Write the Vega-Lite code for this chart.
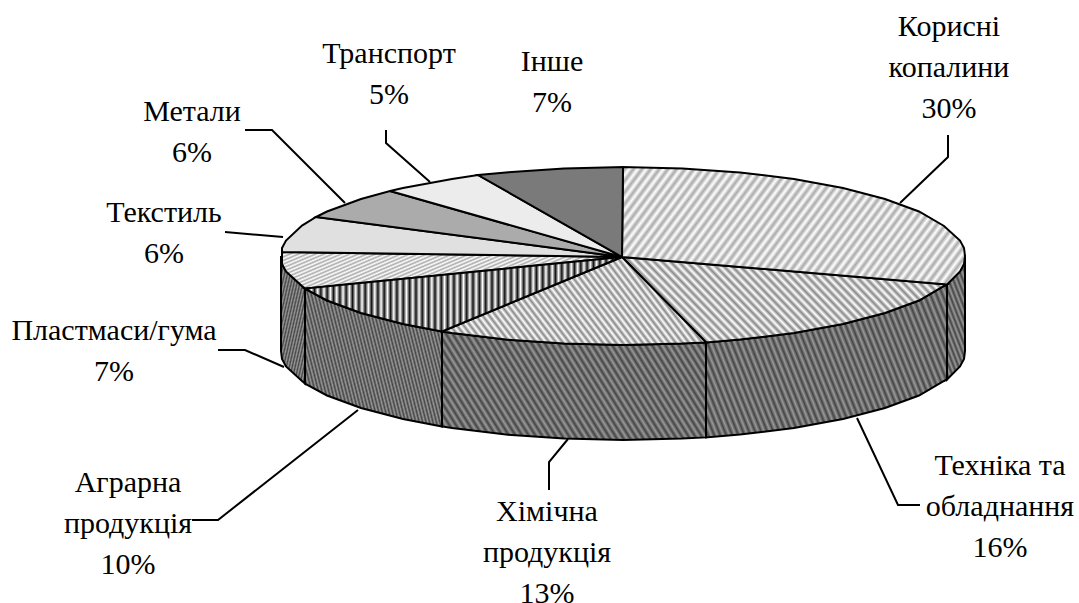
{"$schema":"https://vega.github.io/schema/vega-lite/v6.json","width":1079,"height":603,"padding":0,"autosize":"none","background":"white","view":{"stroke":null},
"projection":{"type":"identity","scale":1,"translate":[0,0]},
"config":{"view":{"stroke":null}},
"datasets":{
"shapes":[
{"type":"Feature","properties":{"name":"Корисні копалини","part":"wall","look":"dark"},"geometry":{"type":"Polygon","coordinates":[[[965,256],[964,264],[960,271.5],[947,284.5],[947,379.5],[960,366.5],[964,359],[965,351],[965,256]]]}},
{"type":"Feature","properties":{"name":"Техніка та обладнання","part":"wall","look":"dark"},"geometry":{"type":"Polygon","coordinates":[[[947,284.5],[944,286],[919,300.5],[885,313],[843,324],[794,333],[740,339.6],[706,342.4],[706,437.4],[740,434.6],[794,428],[843,419],[885,408],[919,395.5],[944,381],[947,379.5],[947,284.5]]]}},
{"type":"Feature","properties":{"name":"Хімічна продукція","part":"wall","look":"dark"},"geometry":{"type":"Polygon","coordinates":[[[706,342.4],[682,343.6],[623,345],[564,343.6],[506,339.6],[452,333],[442,331.5],[442,426.5],[452,428],[506,434.6],[564,438.6],[623,440],[682,438.6],[706,437.4],[706,342.4]]]}},
{"type":"Feature","properties":{"name":"Аграрна продукція","part":"wall","look":"dark"},"geometry":{"type":"Polygon","coordinates":[[[442,331.5],[403,324],[361,313],[327,300.5],[305,288.6],[305,383.6],[327,395.5],[361,408],[403,419],[442,426.5],[442,331.5]]]}},
{"type":"Feature","properties":{"name":"Пластмаси/гума","part":"wall","look":"dark"},"geometry":{"type":"Polygon","coordinates":[[[305,288.6],[302,286],[286,271.5],[282,264],[281,256],[281,351],[282,359],[286,366.5],[302,381],[305,383.6],[305,288.6]]]}},
{"type":"Feature","properties":{"name":"Корисні копалини","part":"top","look":"lightF"},"geometry":{"type":"Polygon","coordinates":[[[622,257],[623,167],[682.4,168.4],[740,172.4],[794,179],[843,188],[885,199],[919,211.5],[944,226],[960,240.5],[964,248],[965,256],[964,264],[960,271.5],[947,284.5],[622,257]]]}},
{"type":"Feature","properties":{"name":"Техніка та обладнання","part":"top","look":"lightB"},"geometry":{"type":"Polygon","coordinates":[[[622,257],[947,284.5],[944,286],[919,300.5],[885,313],[843,324],[794,333],[740,339.6],[706,342.4],[622,257]]]}},
{"type":"Feature","properties":{"name":"Хімічна продукція","part":"top","look":"lightB"},"geometry":{"type":"Polygon","coordinates":[[[622,257],[706,342.4],[682,343.6],[623,345],[564,343.6],[506,339.6],[452,333],[442,331.5],[622,257]]]}},
{"type":"Feature","properties":{"name":"Аграрна продукція","part":"top","look":"contrast"},"geometry":{"type":"Polygon","coordinates":[[[622,257],[442,331.5],[403,324],[361,313],[327,300.5],[305,288.6],[622,257]]]}},
{"type":"Feature","properties":{"name":"Пластмаси/гума","part":"top","look":"lightF"},"geometry":{"type":"Polygon","coordinates":[[[622,257],[305,288.6],[302,286],[286,271.5],[282,264],[282,252],[622,257]]]}},
{"type":"Feature","properties":{"name":"Текстиль","part":"top","look":"#e0e0e0"},"geometry":{"type":"Polygon","coordinates":[[[622,257],[282,252],[282,248],[286,240.5],[302,225.6],[316,217],[622,257]]]}},
{"type":"Feature","properties":{"name":"Метали","part":"top","look":"#ababab"},"geometry":{"type":"Polygon","coordinates":[[[622,257],[316,217],[327,211.5],[361,199],[390,191],[622,257]]]}},
{"type":"Feature","properties":{"name":"Транспорт","part":"top","look":"#ececec"},"geometry":{"type":"Polygon","coordinates":[[[622,257],[390,191],[403,188],[452,179],[478,175],[622,257]]]}},
{"type":"Feature","properties":{"name":"Інше","part":"top","look":"#7a7a7a"},"geometry":{"type":"Polygon","coordinates":[[[622,257],[478,175],[506,172.4],[564,168.4],[623,167],[622,257]]]}}
],
"leaders":[
{"type":"Feature","properties":{"name":"Корисні копалини"},"geometry":{"type":"LineString","coordinates":[[948,135],[948,157],[900,203]]}},
{"type":"Feature","properties":{"name":"Техніка та обладнання"},"geometry":{"type":"LineString","coordinates":[[857,418],[898,505],[920,505]]}},
{"type":"Feature","properties":{"name":"Хімічна продукція"},"geometry":{"type":"LineString","coordinates":[[549,490],[549,462],[568,439]]}},
{"type":"Feature","properties":{"name":"Аграрна продукція"},"geometry":{"type":"LineString","coordinates":[[192,520],[218,520],[358,410]]}},
{"type":"Feature","properties":{"name":"Пластмаси/гума"},"geometry":{"type":"LineString","coordinates":[[218,350],[245,350],[284,367]]}},
{"type":"Feature","properties":{"name":"Текстиль"},"geometry":{"type":"LineString","coordinates":[[225,232],[283,237]]}},
{"type":"Feature","properties":{"name":"Метали"},"geometry":{"type":"LineString","coordinates":[[245,130],[272,130],[345,203]]}},
{"type":"Feature","properties":{"name":"Транспорт"},"geometry":{"type":"LineString","coordinates":[[386,130],[386,143],[430,182]]}}
],
"labels":[
{"name":"Корисні копалини","share":30,"text":"Корисні\nкопалини\n30%","lon":949,"lat":12},
{"name":"Техніка та обладнання","share":16,"text":"Техніка та\nобладнання\n16%","lon":1000,"lat":451},
{"name":"Хімічна продукція","share":13,"text":"Хімічна\nпродукція\n13%","lon":547,"lat":497},
{"name":"Аграрна продукція","share":10,"text":"Аграрна\nпродукція\n10%","lon":128,"lat":468},
{"name":"Пластмаси/гума","share":7,"text":"Пластмаси/гума\n7%","lon":114,"lat":316},
{"name":"Текстиль","share":6,"text":"Текстиль\n6%","lon":164,"lat":198},
{"name":"Метали","share":6,"text":"Метали\n6%","lon":192,"lat":97},
{"name":"Транспорт","share":5,"text":"Транспорт\n5%","lon":389,"lat":39},
{"name":"Інше","share":7,"text":"Інше\n7%","lon":552,"lat":47}
]},
"layer":[
{"data":{"name":"shapes"},"transform":[{"filter":"datum.properties.look=='dark'"}],
"mark":{"type":"geoshape","stroke":"black","strokeWidth":2,"fill":{"gradient":"linear","x1":0,"y1":1,"x2":1.18,"y2":0.7,"stops":[{"offset":0,"color":"#999"},{"offset":0.01,"color":"#444"},{"offset":0.02,"color":"#999"},{"offset":0.03,"color":"#444"},{"offset":0.04,"color":"#999"},{"offset":0.05,"color":"#444"},{"offset":0.06,"color":"#999"},{"offset":0.07,"color":"#444"},{"offset":0.08,"color":"#999"},{"offset":0.09,"color":"#444"},{"offset":0.1,"color":"#999"},{"offset":0.11,"color":"#444"},{"offset":0.12,"color":"#999"},{"offset":0.13,"color":"#444"},{"offset":0.14,"color":"#999"},{"offset":0.15,"color":"#444"},{"offset":0.16,"color":"#999"},{"offset":0.17,"color":"#444"},{"offset":0.18,"color":"#999"},{"offset":0.19,"color":"#444"},{"offset":0.2,"color":"#999"},{"offset":0.21,"color":"#444"},{"offset":0.22,"color":"#999"},{"offset":0.23,"color":"#444"},{"offset":0.24,"color":"#999"},{"offset":0.25,"color":"#444"},{"offset":0.26,"color":"#999"},{"offset":0.27,"color":"#444"},{"offset":0.28,"color":"#999"},{"offset":0.29,"color":"#444"},{"offset":0.3,"color":"#999"},{"offset":0.31,"color":"#444"},{"offset":0.32,"color":"#999"},{"offset":0.33,"color":"#444"},{"offset":0.34,"color":"#999"},{"offset":0.35,"color":"#444"},{"offset":0.36,"color":"#999"},{"offset":0.37,"color":"#444"},{"offset":0.38,"color":"#999"},{"offset":0.39,"color":"#444"},{"offset":0.4,"color":"#999"},{"offset":0.41,"color":"#444"},{"offset":0.42,"color":"#999"},{"offset":0.43,"color":"#444"},{"offset":0.44,"color":"#999"},{"offset":0.45,"color":"#444"},{"offset":0.46,"color":"#999"},{"offset":0.47,"color":"#444"},{"offset":0.48,"color":"#999"},{"offset":0.49,"color":"#444"},{"offset":0.5,"color":"#999"},{"offset":0.51,"color":"#444"},{"offset":0.52,"color":"#999"},{"offset":0.53,"color":"#444"},{"offset":0.54,"color":"#999"},{"offset":0.55,"color":"#444"},{"offset":0.56,"color":"#999"},{"offset":0.57,"color":"#444"},{"offset":0.58,"color":"#999"},{"offset":0.59,"color":"#444"},{"offset":0.6,"color":"#999"},{"offset":0.61,"color":"#444"},{"offset":0.62,"color":"#999"},{"offset":0.63,"color":"#444"},{"offset":0.64,"color":"#999"},{"offset":0.65,"color":"#444"},{"offset":0.66,"color":"#999"},{"offset":0.67,"color":"#444"},{"offset":0.68,"color":"#999"},{"offset":0.69,"color":"#444"},{"offset":0.7,"color":"#999"},{"offset":0.71,"color":"#444"},{"offset":0.72,"color":"#999"},{"offset":0.73,"color":"#444"},{"offset":0.74,"color":"#999"},{"offset":0.75,"color":"#444"},{"offset":0.76,"color":"#999"},{"offset":0.77,"color":"#444"},{"offset":0.78,"color":"#999"},{"offset":0.79,"color":"#444"},{"offset":0.8,"color":"#999"},{"offset":0.81,"color":"#444"},{"offset":0.82,"color":"#999"},{"offset":0.83,"color":"#444"},{"offset":0.84,"color":"#999"},{"offset":0.85,"color":"#444"},{"offset":0.86,"color":"#999"},{"offset":0.87,"color":"#444"},{"offset":0.88,"color":"#999"},{"offset":0.89,"color":"#444"},{"offset":0.9,"color":"#999"},{"offset":0.91,"color":"#444"},{"offset":0.92,"color":"#999"},{"offset":0.93,"color":"#444"},{"offset":0.94,"color":"#999"},{"offset":0.95,"color":"#444"},{"offset":0.96,"color":"#999"},{"offset":0.97,"color":"#444"},{"offset":0.98,"color":"#999"},{"offset":0.99,"color":"#444"},{"offset":1,"color":"#999"}]}},"encoding":{}},
{"data":{"name":"shapes"},"transform":[{"filter":"datum.properties.look=='lightB'"}],
"mark":{"type":"geoshape","stroke":"black","strokeWidth":2,"fill":{"gradient":"linear","x1":0,"y1":1,"x2":1.18,"y2":0.7,"stops":[{"offset":0,"color":"#fff"},{"offset":0.01,"color":"#888"},{"offset":0.02,"color":"#fff"},{"offset":0.03,"color":"#888"},{"offset":0.04,"color":"#fff"},{"offset":0.05,"color":"#888"},{"offset":0.06,"color":"#fff"},{"offset":0.07,"color":"#888"},{"offset":0.08,"color":"#fff"},{"offset":0.09,"color":"#888"},{"offset":0.1,"color":"#fff"},{"offset":0.11,"color":"#888"},{"offset":0.12,"color":"#fff"},{"offset":0.13,"color":"#888"},{"offset":0.14,"color":"#fff"},{"offset":0.15,"color":"#888"},{"offset":0.16,"color":"#fff"},{"offset":0.17,"color":"#888"},{"offset":0.18,"color":"#fff"},{"offset":0.19,"color":"#888"},{"offset":0.2,"color":"#fff"},{"offset":0.21,"color":"#888"},{"offset":0.22,"color":"#fff"},{"offset":0.23,"color":"#888"},{"offset":0.24,"color":"#fff"},{"offset":0.25,"color":"#888"},{"offset":0.26,"color":"#fff"},{"offset":0.27,"color":"#888"},{"offset":0.28,"color":"#fff"},{"offset":0.29,"color":"#888"},{"offset":0.3,"color":"#fff"},{"offset":0.31,"color":"#888"},{"offset":0.32,"color":"#fff"},{"offset":0.33,"color":"#888"},{"offset":0.34,"color":"#fff"},{"offset":0.35,"color":"#888"},{"offset":0.36,"color":"#fff"},{"offset":0.37,"color":"#888"},{"offset":0.38,"color":"#fff"},{"offset":0.39,"color":"#888"},{"offset":0.4,"color":"#fff"},{"offset":0.41,"color":"#888"},{"offset":0.42,"color":"#fff"},{"offset":0.43,"color":"#888"},{"offset":0.44,"color":"#fff"},{"offset":0.45,"color":"#888"},{"offset":0.46,"color":"#fff"},{"offset":0.47,"color":"#888"},{"offset":0.48,"color":"#fff"},{"offset":0.49,"color":"#888"},{"offset":0.5,"color":"#fff"},{"offset":0.51,"color":"#888"},{"offset":0.52,"color":"#fff"},{"offset":0.53,"color":"#888"},{"offset":0.54,"color":"#fff"},{"offset":0.55,"color":"#888"},{"offset":0.56,"color":"#fff"},{"offset":0.57,"color":"#888"},{"offset":0.58,"color":"#fff"},{"offset":0.59,"color":"#888"},{"offset":0.6,"color":"#fff"},{"offset":0.61,"color":"#888"},{"offset":0.62,"color":"#fff"},{"offset":0.63,"color":"#888"},{"offset":0.64,"color":"#fff"},{"offset":0.65,"color":"#888"},{"offset":0.66,"color":"#fff"},{"offset":0.67,"color":"#888"},{"offset":0.68,"color":"#fff"},{"offset":0.69,"color":"#888"},{"offset":0.7,"color":"#fff"},{"offset":0.71,"color":"#888"},{"offset":0.72,"color":"#fff"},{"offset":0.73,"color":"#888"},{"offset":0.74,"color":"#fff"},{"offset":0.75,"color":"#888"},{"offset":0.76,"color":"#fff"},{"offset":0.77,"color":"#888"},{"offset":0.78,"color":"#fff"},{"offset":0.79,"color":"#888"},{"offset":0.8,"color":"#fff"},{"offset":0.81,"color":"#888"},{"offset":0.82,"color":"#fff"},{"offset":0.83,"color":"#888"},{"offset":0.84,"color":"#fff"},{"offset":0.85,"color":"#888"},{"offset":0.86,"color":"#fff"},{"offset":0.87,"color":"#888"},{"offset":0.88,"color":"#fff"},{"offset":0.89,"color":"#888"},{"offset":0.9,"color":"#fff"},{"offset":0.91,"color":"#888"},{"offset":0.92,"color":"#fff"},{"offset":0.93,"color":"#888"},{"offset":0.94,"color":"#fff"},{"offset":0.95,"color":"#888"},{"offset":0.96,"color":"#fff"},{"offset":0.97,"color":"#888"},{"offset":0.98,"color":"#fff"},{"offset":0.99,"color":"#888"},{"offset":1,"color":"#fff"}]}},"encoding":{}},
{"data":{"name":"shapes"},"transform":[{"filter":"datum.properties.look=='lightF'"}],
"mark":{"type":"geoshape","stroke":"black","strokeWidth":2,"fill":{"gradient":"linear","x1":0,"y1":0,"x2":1.18,"y2":0.3,"stops":[{"offset":0,"color":"#fff"},{"offset":0.01,"color":"#aaa"},{"offset":0.02,"color":"#fff"},{"offset":0.03,"color":"#aaa"},{"offset":0.04,"color":"#fff"},{"offset":0.05,"color":"#aaa"},{"offset":0.06,"color":"#fff"},{"offset":0.07,"color":"#aaa"},{"offset":0.08,"color":"#fff"},{"offset":0.09,"color":"#aaa"},{"offset":0.1,"color":"#fff"},{"offset":0.11,"color":"#aaa"},{"offset":0.12,"color":"#fff"},{"offset":0.13,"color":"#aaa"},{"offset":0.14,"color":"#fff"},{"offset":0.15,"color":"#aaa"},{"offset":0.16,"color":"#fff"},{"offset":0.17,"color":"#aaa"},{"offset":0.18,"color":"#fff"},{"offset":0.19,"color":"#aaa"},{"offset":0.2,"color":"#fff"},{"offset":0.21,"color":"#aaa"},{"offset":0.22,"color":"#fff"},{"offset":0.23,"color":"#aaa"},{"offset":0.24,"color":"#fff"},{"offset":0.25,"color":"#aaa"},{"offset":0.26,"color":"#fff"},{"offset":0.27,"color":"#aaa"},{"offset":0.28,"color":"#fff"},{"offset":0.29,"color":"#aaa"},{"offset":0.3,"color":"#fff"},{"offset":0.31,"color":"#aaa"},{"offset":0.32,"color":"#fff"},{"offset":0.33,"color":"#aaa"},{"offset":0.34,"color":"#fff"},{"offset":0.35,"color":"#aaa"},{"offset":0.36,"color":"#fff"},{"offset":0.37,"color":"#aaa"},{"offset":0.38,"color":"#fff"},{"offset":0.39,"color":"#aaa"},{"offset":0.4,"color":"#fff"},{"offset":0.41,"color":"#aaa"},{"offset":0.42,"color":"#fff"},{"offset":0.43,"color":"#aaa"},{"offset":0.44,"color":"#fff"},{"offset":0.45,"color":"#aaa"},{"offset":0.46,"color":"#fff"},{"offset":0.47,"color":"#aaa"},{"offset":0.48,"color":"#fff"},{"offset":0.49,"color":"#aaa"},{"offset":0.5,"color":"#fff"},{"offset":0.51,"color":"#aaa"},{"offset":0.52,"color":"#fff"},{"offset":0.53,"color":"#aaa"},{"offset":0.54,"color":"#fff"},{"offset":0.55,"color":"#aaa"},{"offset":0.56,"color":"#fff"},{"offset":0.57,"color":"#aaa"},{"offset":0.58,"color":"#fff"},{"offset":0.59,"color":"#aaa"},{"offset":0.6,"color":"#fff"},{"offset":0.61,"color":"#aaa"},{"offset":0.62,"color":"#fff"},{"offset":0.63,"color":"#aaa"},{"offset":0.64,"color":"#fff"},{"offset":0.65,"color":"#aaa"},{"offset":0.66,"color":"#fff"},{"offset":0.67,"color":"#aaa"},{"offset":0.68,"color":"#fff"},{"offset":0.69,"color":"#aaa"},{"offset":0.7,"color":"#fff"},{"offset":0.71,"color":"#aaa"},{"offset":0.72,"color":"#fff"},{"offset":0.73,"color":"#aaa"},{"offset":0.74,"color":"#fff"},{"offset":0.75,"color":"#aaa"},{"offset":0.76,"color":"#fff"},{"offset":0.77,"color":"#aaa"},{"offset":0.78,"color":"#fff"},{"offset":0.79,"color":"#aaa"},{"offset":0.8,"color":"#fff"},{"offset":0.81,"color":"#aaa"},{"offset":0.82,"color":"#fff"},{"offset":0.83,"color":"#aaa"},{"offset":0.84,"color":"#fff"},{"offset":0.85,"color":"#aaa"},{"offset":0.86,"color":"#fff"},{"offset":0.87,"color":"#aaa"},{"offset":0.88,"color":"#fff"},{"offset":0.89,"color":"#aaa"},{"offset":0.9,"color":"#fff"},{"offset":0.91,"color":"#aaa"},{"offset":0.92,"color":"#fff"},{"offset":0.93,"color":"#aaa"},{"offset":0.94,"color":"#fff"},{"offset":0.95,"color":"#aaa"},{"offset":0.96,"color":"#fff"},{"offset":0.97,"color":"#aaa"},{"offset":0.98,"color":"#fff"},{"offset":0.99,"color":"#aaa"},{"offset":1,"color":"#fff"}]}},"encoding":{}},
{"data":{"name":"shapes"},"transform":[{"filter":"datum.properties.look=='contrast'"}],
"mark":{"type":"geoshape","stroke":"black","strokeWidth":2,"fill":{"gradient":"linear","x1":0,"y1":0,"x2":1,"y2":0,"stops":[{"offset":0,"color":"#fff"},{"offset":0.01,"color":"#111"},{"offset":0.02,"color":"#fff"},{"offset":0.03,"color":"#111"},{"offset":0.04,"color":"#fff"},{"offset":0.05,"color":"#111"},{"offset":0.06,"color":"#fff"},{"offset":0.07,"color":"#111"},{"offset":0.08,"color":"#fff"},{"offset":0.09,"color":"#111"},{"offset":0.1,"color":"#fff"},{"offset":0.11,"color":"#111"},{"offset":0.12,"color":"#fff"},{"offset":0.13,"color":"#111"},{"offset":0.14,"color":"#fff"},{"offset":0.15,"color":"#111"},{"offset":0.16,"color":"#fff"},{"offset":0.17,"color":"#111"},{"offset":0.18,"color":"#fff"},{"offset":0.19,"color":"#111"},{"offset":0.2,"color":"#fff"},{"offset":0.21,"color":"#111"},{"offset":0.22,"color":"#fff"},{"offset":0.23,"color":"#111"},{"offset":0.24,"color":"#fff"},{"offset":0.25,"color":"#111"},{"offset":0.26,"color":"#fff"},{"offset":0.27,"color":"#111"},{"offset":0.28,"color":"#fff"},{"offset":0.29,"color":"#111"},{"offset":0.3,"color":"#fff"},{"offset":0.31,"color":"#111"},{"offset":0.32,"color":"#fff"},{"offset":0.33,"color":"#111"},{"offset":0.34,"color":"#fff"},{"offset":0.35,"color":"#111"},{"offset":0.36,"color":"#fff"},{"offset":0.37,"color":"#111"},{"offset":0.38,"color":"#fff"},{"offset":0.39,"color":"#111"},{"offset":0.4,"color":"#fff"},{"offset":0.41,"color":"#111"},{"offset":0.42,"color":"#fff"},{"offset":0.43,"color":"#111"},{"offset":0.44,"color":"#fff"},{"offset":0.45,"color":"#111"},{"offset":0.46,"color":"#fff"},{"offset":0.47,"color":"#111"},{"offset":0.48,"color":"#fff"},{"offset":0.49,"color":"#111"},{"offset":0.5,"color":"#fff"},{"offset":0.51,"color":"#111"},{"offset":0.52,"color":"#fff"},{"offset":0.53,"color":"#111"},{"offset":0.54,"color":"#fff"},{"offset":0.55,"color":"#111"},{"offset":0.56,"color":"#fff"},{"offset":0.57,"color":"#111"},{"offset":0.58,"color":"#fff"},{"offset":0.59,"color":"#111"},{"offset":0.6,"color":"#fff"},{"offset":0.61,"color":"#111"},{"offset":0.62,"color":"#fff"},{"offset":0.63,"color":"#111"},{"offset":0.64,"color":"#fff"},{"offset":0.65,"color":"#111"},{"offset":0.66,"color":"#fff"},{"offset":0.67,"color":"#111"},{"offset":0.68,"color":"#fff"},{"offset":0.69,"color":"#111"},{"offset":0.7,"color":"#fff"},{"offset":0.71,"color":"#111"},{"offset":0.72,"color":"#fff"},{"offset":0.73,"color":"#111"},{"offset":0.74,"color":"#fff"},{"offset":0.75,"color":"#111"},{"offset":0.76,"color":"#fff"},{"offset":0.77,"color":"#111"},{"offset":0.78,"color":"#fff"},{"offset":0.79,"color":"#111"},{"offset":0.8,"color":"#fff"},{"offset":0.81,"color":"#111"},{"offset":0.82,"color":"#fff"},{"offset":0.83,"color":"#111"},{"offset":0.84,"color":"#fff"},{"offset":0.85,"color":"#111"},{"offset":0.86,"color":"#fff"},{"offset":0.87,"color":"#111"},{"offset":0.88,"color":"#fff"},{"offset":0.89,"color":"#111"},{"offset":0.9,"color":"#fff"},{"offset":0.91,"color":"#111"},{"offset":0.92,"color":"#fff"},{"offset":0.93,"color":"#111"},{"offset":0.94,"color":"#fff"},{"offset":0.95,"color":"#111"},{"offset":0.96,"color":"#fff"},{"offset":0.97,"color":"#111"},{"offset":0.98,"color":"#fff"},{"offset":0.99,"color":"#111"},{"offset":1,"color":"#fff"}]}},"encoding":{}},
{"data":{"name":"shapes"},"transform":[{"filter":"datum.properties.look[0]=='#'"}],
"mark":{"type":"geoshape","stroke":"black","strokeWidth":2},"encoding":{"fill":{"field":"properties.look","type":"nominal","scale":null}}},
{"data":{"name":"leaders"},"mark":{"type":"geoshape","filled":false,"fill":null,"stroke":"black","strokeWidth":2},"encoding":{}},
{"data":{"name":"labels"},"mark":{"type":"text","font":"Liberation Serif","fontSize":30,"color":"black","align":"center","baseline":"top","lineBreak":"\n","lineHeight":41},"encoding":{"longitude":{"field":"lon","type":"quantitative"},"latitude":{"field":"lat","type":"quantitative"},"text":{"field":"text"}}}
]}
